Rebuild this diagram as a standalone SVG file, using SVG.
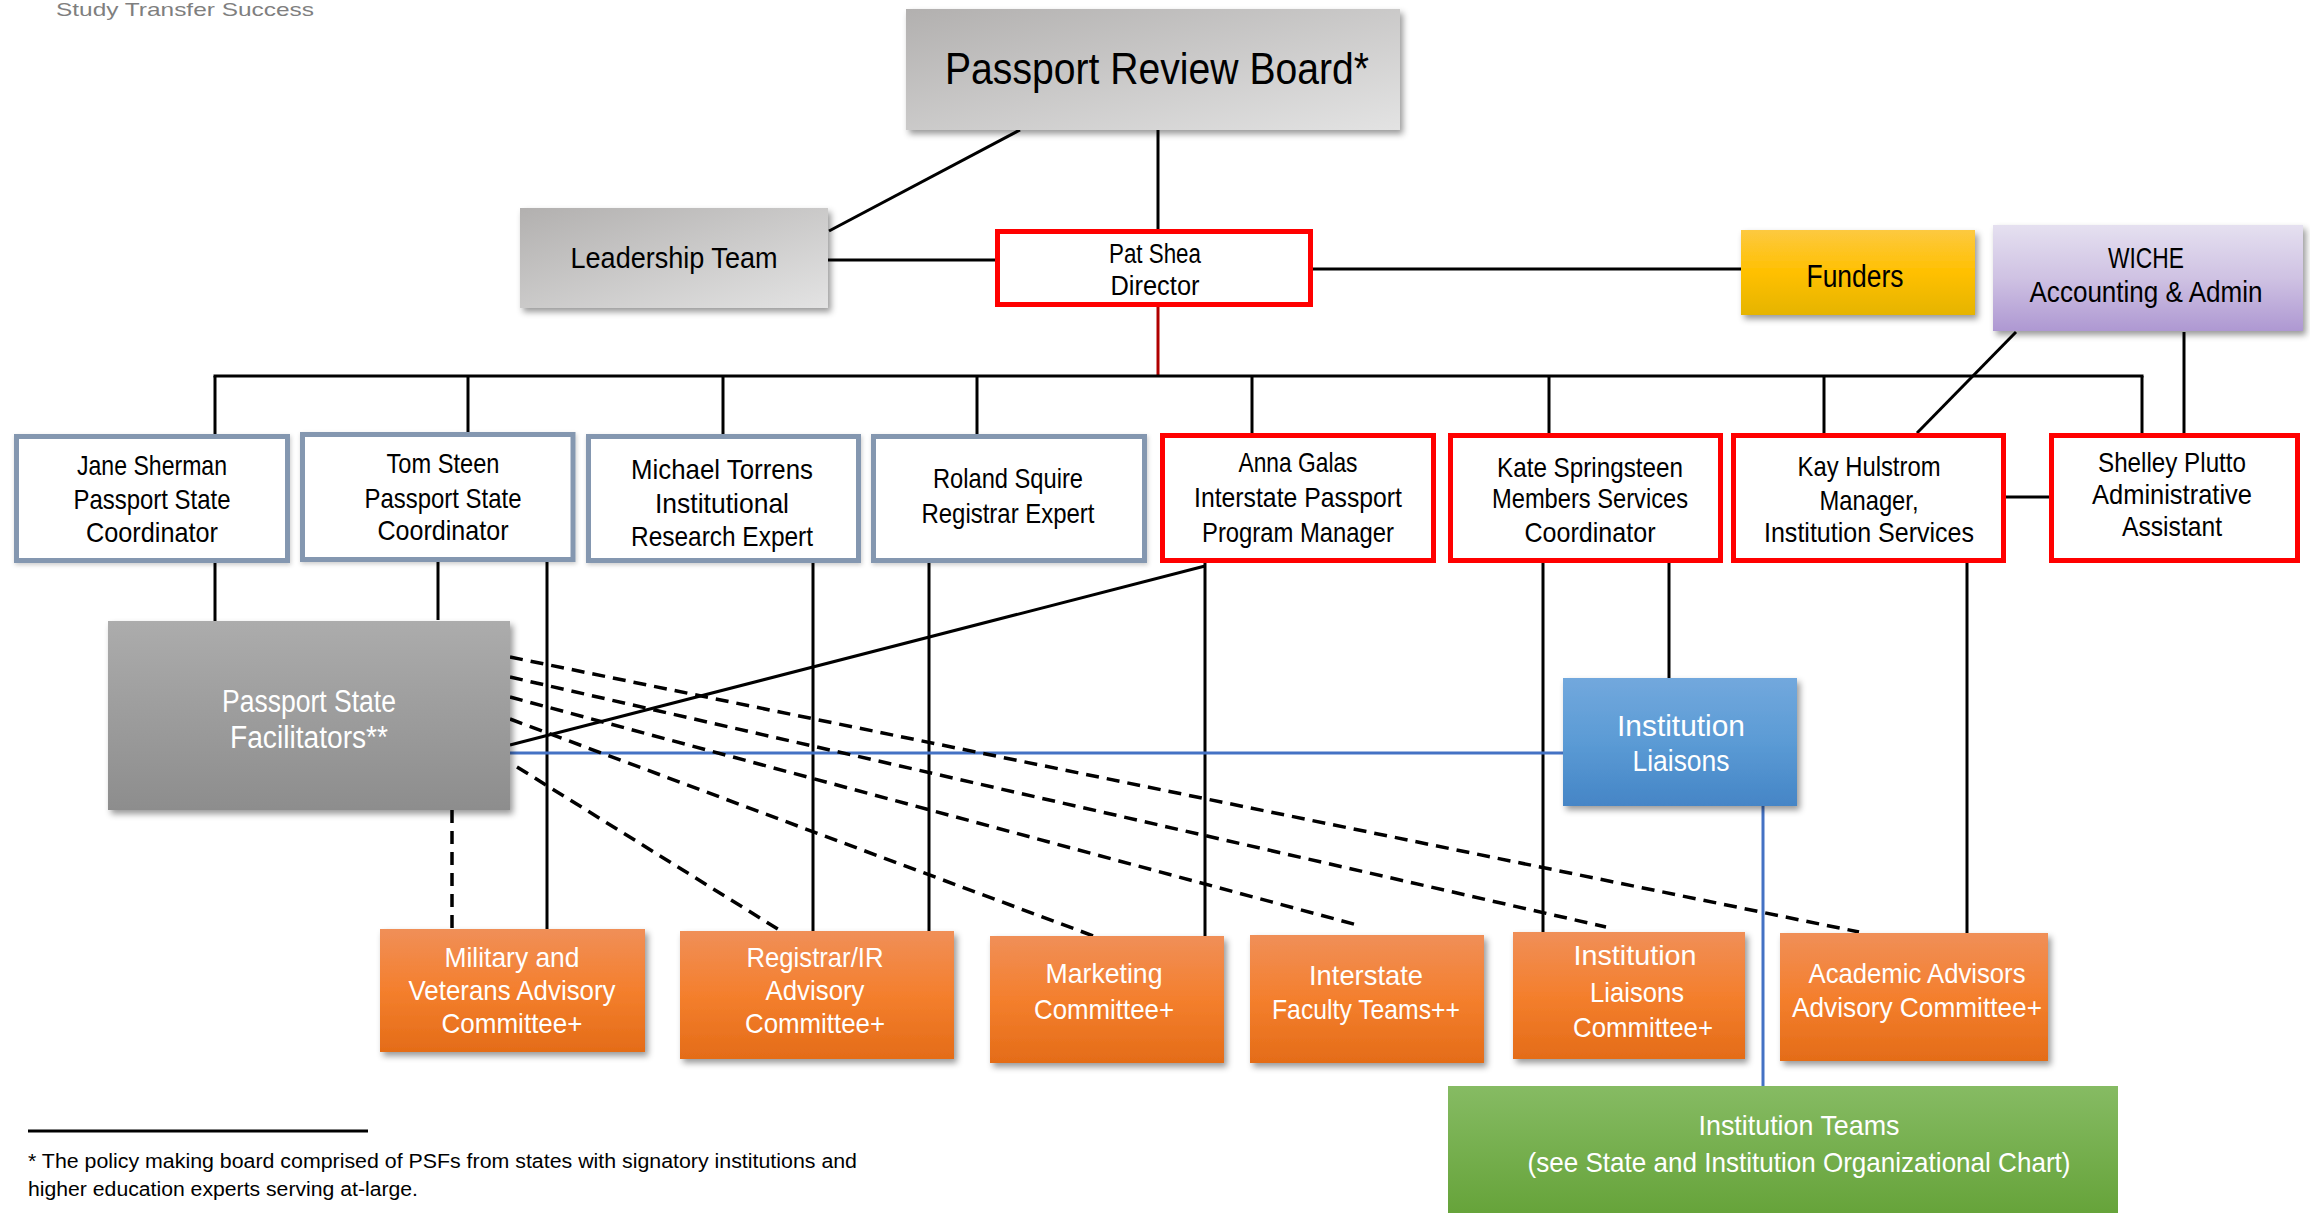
<svg xmlns="http://www.w3.org/2000/svg" width="2310" height="1213" viewBox="0 0 2310 1213">
<defs>
<style>
text{font-family:"Liberation Sans",Arial,sans-serif;text-anchor:middle;fill:#000;}
.t27{font-size:28px;}
.t28{font-size:29px;}
.t30{font-size:31px;}
.w{fill:#fff;}
.ln{stroke:#000;stroke-width:3;fill:none;}
.dash{stroke:#000;stroke-width:3.5;fill:none;stroke-dasharray:13 8;}
.blue{stroke:#4472c4;stroke-width:3;fill:none;}
.pb{fill:#fff;stroke:#8497b0;stroke-width:5;}
.pr{fill:#fff;stroke:#ff0000;stroke-width:5;}
.foot{font-size:20px;text-anchor:start;}
</style>
<linearGradient id="gGray" x1="0" y1="0" x2="1" y2="1">
<stop offset="0" stop-color="#b2b0af"/><stop offset="1" stop-color="#e3e3e3"/>
</linearGradient>
<linearGradient id="gPsf" x1="0" y1="0" x2="0" y2="1">
<stop offset="0" stop-color="#acacac"/><stop offset="1" stop-color="#8d8d8d"/>
</linearGradient>
<linearGradient id="gYel" x1="0" y1="0" x2="0" y2="1">
<stop offset="0" stop-color="#fdc940"/><stop offset="0.5" stop-color="#ffc000"/><stop offset="1" stop-color="#e5b400"/>
</linearGradient>
<linearGradient id="gPur" x1="0" y1="0" x2="0" y2="1">
<stop offset="0" stop-color="#e5e0f0"/><stop offset="0.5" stop-color="#cfc2e3"/><stop offset="1" stop-color="#ae98d2"/>
</linearGradient>
<linearGradient id="gBlue" x1="0" y1="0" x2="0" y2="1">
<stop offset="0" stop-color="#72a8dd"/><stop offset="0.5" stop-color="#5b9bd5"/><stop offset="1" stop-color="#4585c6"/>
</linearGradient>
<linearGradient id="gOr" x1="0" y1="0" x2="0" y2="1">
<stop offset="0" stop-color="#f08f58"/><stop offset="0.5" stop-color="#f47f2d"/><stop offset="1" stop-color="#e46c18"/>
</linearGradient>
<linearGradient id="gGr" x1="0" y1="0" x2="0" y2="1">
<stop offset="0" stop-color="#86bb63"/><stop offset="1" stop-color="#63a136"/>
</linearGradient>
<filter id="sh" x="-10%" y="-10%" width="125%" height="130%">
<feDropShadow dx="3" dy="4" stdDeviation="3" flood-color="#000" flood-opacity="0.4"/>
</filter>
<filter id="shl" x="-10%" y="-10%" width="125%" height="130%">
<feDropShadow dx="1" dy="2" stdDeviation="2" flood-color="#000" flood-opacity="0.2"/>
</filter>
</defs>
<rect x="0" y="0" width="2310" height="1213" fill="#fff"/>

<text x="56" y="16" style="font-size:19px;text-anchor:start;fill:#7f7f7f" textLength="258" lengthAdjust="spacingAndGlyphs">Study Transfer Success</text>

<g id="connectors">
<line class="ln" x1="1020" y1="130" x2="829" y2="231"/>
<line class="ln" x1="1158" y1="130" x2="1158" y2="229"/>
<line class="ln" x1="828" y1="260" x2="995" y2="260"/>
<line class="ln" x1="1313" y1="269" x2="1741" y2="269"/>
<line x1="1158" y1="307" x2="1158" y2="376" stroke="#b00000" stroke-width="3"/>
<line class="ln" x1="213.5" y1="376" x2="2143.5" y2="376"/>
<line class="ln" x1="215" y1="376" x2="215" y2="434"/>
<line class="ln" x1="468" y1="376" x2="468" y2="432"/>
<line class="ln" x1="723" y1="376" x2="723" y2="434"/>
<line class="ln" x1="977" y1="376" x2="977" y2="434"/>
<line class="ln" x1="1252" y1="376" x2="1252" y2="433"/>
<line class="ln" x1="1549" y1="376" x2="1549" y2="433"/>
<line class="ln" x1="1824" y1="376" x2="1824" y2="433"/>
<line class="ln" x1="2142" y1="376" x2="2142" y2="433"/>
<line class="ln" x1="2016" y1="332" x2="1917" y2="433"/>
<line class="ln" x1="2184" y1="332" x2="2184" y2="433"/>
<line class="ln" x1="2006" y1="497" x2="2049" y2="497"/>
<line class="ln" x1="215" y1="563" x2="215" y2="621"/>
<line class="ln" x1="438" y1="562" x2="438" y2="620"/>
<line class="ln" x1="547" y1="560" x2="547" y2="930"/>
<line class="ln" x1="813" y1="563" x2="813" y2="932"/>
<line class="ln" x1="929" y1="560" x2="929" y2="932"/>
<line class="ln" x1="1205" y1="563" x2="1205" y2="936"/>
<line class="ln" x1="1205" y1="566" x2="510" y2="745"/>
<line class="ln" x1="1543" y1="563" x2="1543" y2="932"/>
<line class="ln" x1="1669" y1="563" x2="1669" y2="678"/>
<line class="ln" x1="1967" y1="560" x2="1967" y2="933"/>
<line class="blue" x1="510" y1="753" x2="1563" y2="753"/>
<line class="blue" x1="1763" y1="806" x2="1763" y2="1086"/>
<line class="dash" x1="510" y1="657" x2="1859" y2="932"/>
<line class="dash" x1="510" y1="677" x2="1606" y2="927"/>
<line class="dash" x1="510" y1="697" x2="1361" y2="926"/>
<line class="dash" x1="510" y1="719" x2="1099" y2="938"/>
<line class="dash" x1="517" y1="767" x2="781" y2="931"/>
<line class="dash" x1="452" y1="810" x2="452" y2="929"/>
</g>

<g id="prb">
<rect x="906" y="9" width="494" height="121" fill="url(#gGray)" filter="url(#sh)"/>
<text x="1157" y="84" style="font-size:44px" textLength="424" lengthAdjust="spacingAndGlyphs">Passport Review  Board*</text>
</g>
<g id="leadership">
<rect x="520" y="208" width="308" height="100" fill="url(#gGray)" filter="url(#sh)"/>
<text class="t28" x="674" y="268" textLength="207" lengthAdjust="spacingAndGlyphs">Leadership Team</text>
</g>
<g id="patshea">
<rect class="pr" x="997.5" y="231.5" width="313" height="73"/>
<text x="1155" y="263" style="font-size:27px" textLength="92" lengthAdjust="spacingAndGlyphs">Pat Shea</text>
<text x="1155" y="295" style="font-size:27px" textLength="89" lengthAdjust="spacingAndGlyphs">Director</text>
</g>
<g id="funders">
<rect x="1741" y="230" width="234" height="85" fill="url(#gYel)" filter="url(#sh)"/>
<text class="t30" x="1855" y="287" textLength="97" lengthAdjust="spacingAndGlyphs">Funders</text>
</g>
<g id="wiche">
<rect x="1993" y="225" width="310" height="106" fill="url(#gPur)" filter="url(#sh)"/>
<text x="2146" y="268" style="font-size:30px" textLength="76" lengthAdjust="spacingAndGlyphs">WICHE</text>
<text x="2146" y="302" style="font-size:30px" textLength="233" lengthAdjust="spacingAndGlyphs">Accounting &amp; Admin</text>
</g>

<g id="jane">
<rect class="pb" x="16.5" y="436.5" width="271" height="124" filter="url(#shl)"/>
<text class="t27" x="152" y="475" textLength="150" lengthAdjust="spacingAndGlyphs">Jane Sherman</text>
<text class="t27" x="152" y="509" textLength="157" lengthAdjust="spacingAndGlyphs">Passport State</text>
<text class="t27" x="152" y="542" textLength="132" lengthAdjust="spacingAndGlyphs">Coordinator</text>
</g>
<g id="tom">
<rect class="pb" x="302.5" y="434.5" width="270.5" height="125" filter="url(#shl)"/>
<text class="t27" x="443" y="473" textLength="113" lengthAdjust="spacingAndGlyphs">Tom Steen</text>
<text class="t27" x="443" y="508" textLength="157" lengthAdjust="spacingAndGlyphs">Passport State</text>
<text class="t27" x="443" y="540" textLength="131" lengthAdjust="spacingAndGlyphs">Coordinator</text>
</g>
<g id="michael">
<rect class="pb" x="588.5" y="436.5" width="270" height="124" filter="url(#shl)"/>
<text class="t27" x="722" y="479" textLength="182" lengthAdjust="spacingAndGlyphs">Michael Torrens</text>
<text class="t27" x="722" y="513" textLength="134" lengthAdjust="spacingAndGlyphs">Institutional</text>
<text class="t27" x="722" y="546" textLength="182" lengthAdjust="spacingAndGlyphs">Research Expert</text>
</g>
<g id="roland">
<rect class="pb" x="873.5" y="436.5" width="271" height="124" filter="url(#shl)"/>
<text class="t27" x="1008" y="488" textLength="150" lengthAdjust="spacingAndGlyphs">Roland Squire</text>
<text class="t27" x="1008" y="523" textLength="173" lengthAdjust="spacingAndGlyphs">Registrar Expert</text>
</g>
<g id="anna">
<rect class="pr" x="1162.5" y="435.5" width="271" height="125"/>
<text class="t27" x="1298" y="472" textLength="119" lengthAdjust="spacingAndGlyphs">Anna Galas</text>
<text class="t27" x="1298" y="507" textLength="208" lengthAdjust="spacingAndGlyphs">Interstate Passport</text>
<text class="t27" x="1298" y="542" textLength="192" lengthAdjust="spacingAndGlyphs">Program Manager</text>
</g>
<g id="kate">
<rect class="pr" x="1450.5" y="435.5" width="270" height="125"/>
<text class="t27" x="1590" y="477" textLength="186" lengthAdjust="spacingAndGlyphs">Kate Springsteen</text>
<text class="t27" x="1590" y="508" textLength="196" lengthAdjust="spacingAndGlyphs">Members Services</text>
<text class="t27" x="1590" y="542" textLength="131" lengthAdjust="spacingAndGlyphs">Coordinator</text>
</g>
<g id="kay">
<rect class="pr" x="1733.5" y="435.5" width="270" height="125"/>
<text class="t27" x="1869" y="476" textLength="143" lengthAdjust="spacingAndGlyphs">Kay Hulstrom</text>
<text class="t27" x="1869" y="510" textLength="99" lengthAdjust="spacingAndGlyphs">Manager,</text>
<text class="t27" x="1869" y="542" textLength="210" lengthAdjust="spacingAndGlyphs">Institution Services</text>
</g>
<g id="shelley">
<rect class="pr" x="2051.5" y="435.5" width="246" height="125"/>
<text class="t27" x="2172" y="472" textLength="148" lengthAdjust="spacingAndGlyphs">Shelley Plutto</text>
<text class="t27" x="2172" y="504" textLength="160" lengthAdjust="spacingAndGlyphs">Administrative</text>
<text class="t27" x="2172" y="536" textLength="100" lengthAdjust="spacingAndGlyphs">Assistant</text>
</g>

<g id="psf">
<rect x="108" y="621" width="402" height="189" fill="url(#gPsf)" filter="url(#sh)"/>
<text class="t30 w" x="309" y="712" textLength="174" lengthAdjust="spacingAndGlyphs">Passport State</text>
<text class="t30 w" x="309" y="748" textLength="158" lengthAdjust="spacingAndGlyphs">Facilitators**</text>
</g>
<g id="instliaisons">
<rect x="1563" y="678" width="234" height="128" fill="url(#gBlue)" filter="url(#sh)"/>
<text class="t28 w" x="1681" y="736" textLength="128" lengthAdjust="spacingAndGlyphs">Institution</text>
<text class="t28 w" x="1681" y="771" textLength="97" lengthAdjust="spacingAndGlyphs">Liaisons</text>
</g>

<g id="military">
<rect x="380" y="929" width="265" height="123" fill="url(#gOr)" filter="url(#sh)"/>
<text class="t27 w" x="512" y="967" textLength="135" lengthAdjust="spacingAndGlyphs">Military and</text>
<text class="t27 w" x="512" y="1000" textLength="207" lengthAdjust="spacingAndGlyphs">Veterans Advisory</text>
<text class="t27 w" x="512" y="1033" textLength="141" lengthAdjust="spacingAndGlyphs">Committee+</text>
</g>
<g id="registrar">
<rect x="680" y="931" width="274" height="128" fill="url(#gOr)" filter="url(#sh)"/>
<text class="t27 w" x="815" y="967" textLength="137" lengthAdjust="spacingAndGlyphs">Registrar/IR</text>
<text class="t27 w" x="815" y="1000" textLength="99" lengthAdjust="spacingAndGlyphs">Advisory</text>
<text class="t27 w" x="815" y="1033" textLength="140" lengthAdjust="spacingAndGlyphs">Committee+</text>
</g>
<g id="marketing">
<rect x="990" y="936" width="234" height="127" fill="url(#gOr)" filter="url(#sh)"/>
<text class="t27 w" x="1104" y="983" textLength="117" lengthAdjust="spacingAndGlyphs">Marketing</text>
<text class="t27 w" x="1104" y="1019" textLength="140" lengthAdjust="spacingAndGlyphs">Committee+</text>
</g>
<g id="interstate">
<rect x="1250" y="935" width="234" height="128" fill="url(#gOr)" filter="url(#sh)"/>
<text class="t27 w" x="1366" y="985" textLength="114" lengthAdjust="spacingAndGlyphs">Interstate</text>
<text class="t27 w" x="1366" y="1019" textLength="188" lengthAdjust="spacingAndGlyphs">Faculty Teams++</text>
</g>
<g id="ilcommittee">
<rect x="1513" y="932" width="232" height="127" fill="url(#gOr)" filter="url(#sh)"/>
<text class="t27 w" x="1635" y="965" textLength="123" lengthAdjust="spacingAndGlyphs">Institution</text>
<text class="t27 w" x="1637" y="1002" textLength="94" lengthAdjust="spacingAndGlyphs">Liaisons</text>
<text class="t27 w" x="1643" y="1037" textLength="140" lengthAdjust="spacingAndGlyphs">Committee+</text>
</g>
<g id="academic">
<rect x="1780" y="933" width="268" height="128" fill="url(#gOr)" filter="url(#sh)"/>
<text class="t27 w" x="1917" y="983" textLength="217" lengthAdjust="spacingAndGlyphs">Academic Advisors</text>
<text class="t27 w" x="1917" y="1017" textLength="250" lengthAdjust="spacingAndGlyphs">Advisory  Committee+</text>
</g>
<g id="instteams">
<rect x="1448" y="1086" width="670" height="140" fill="url(#gGr)"/>
<text class="t27 w" x="1799" y="1135" textLength="201" lengthAdjust="spacingAndGlyphs">Institution Teams</text>
<text class="t27 w" x="1799" y="1172" textLength="543" lengthAdjust="spacingAndGlyphs">(see State and Institution Organizational Chart)</text>
</g>

<g id="footnote">
<line x1="28" y1="1131" x2="368" y2="1131" stroke="#000" stroke-width="3"/>
<text class="foot" x="28" y="1168" textLength="829" lengthAdjust="spacingAndGlyphs">* The policy making board comprised of PSFs from states with signatory institutions  and</text>
<text class="foot" x="28" y="1196" textLength="390" lengthAdjust="spacingAndGlyphs">higher education experts serving at-large.</text>
</g>
</svg>
